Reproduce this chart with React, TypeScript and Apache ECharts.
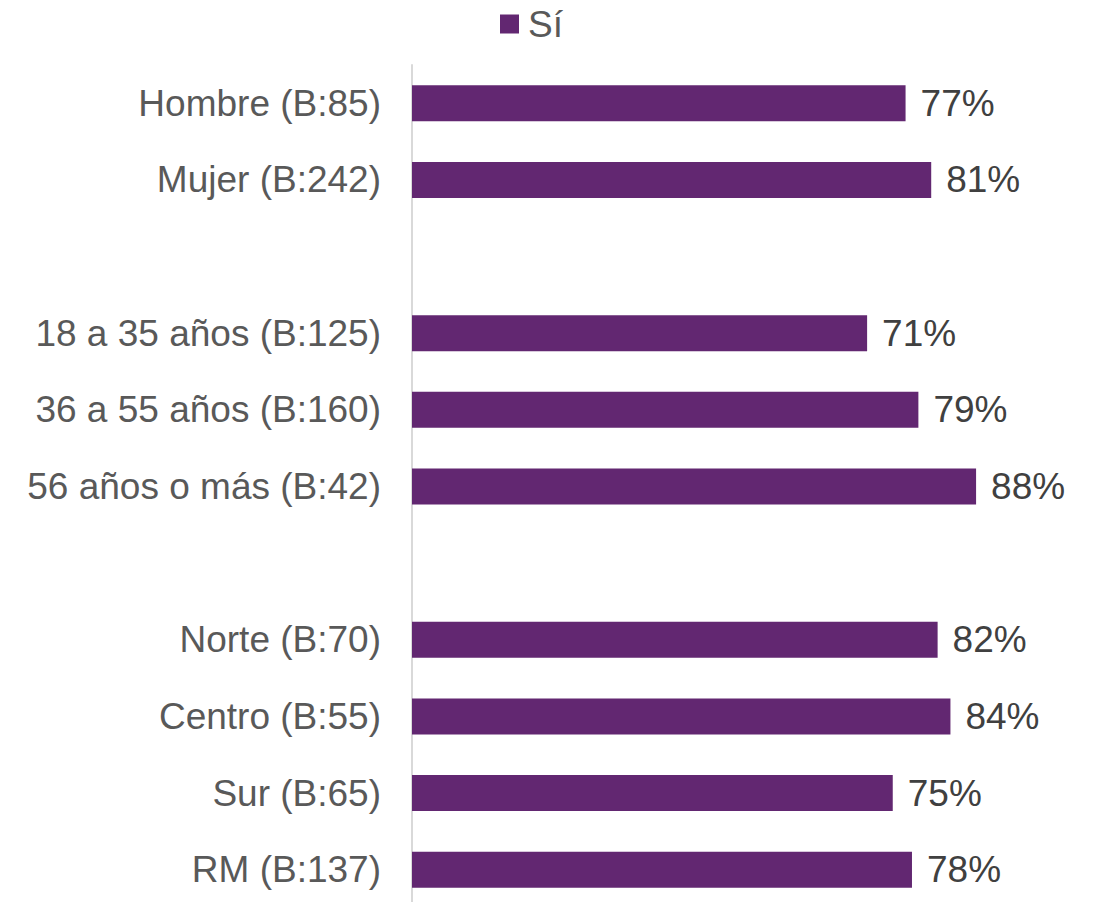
import React, { useEffect, useRef } from "react";
import * as echarts from "echarts";

const categories = [
  "Hombre (B:85)",
  "Mujer (B:242)",
  "",
  "18 a 35 años (B:125)",
  "36 a 55 años (B:160)",
  "56 años o más (B:42)",
  " ",
  "Norte (B:70)",
  "Centro (B:55)",
  "Sur (B:65)",
  "RM (B:137)",
];
const siValues: (number | null)[] = [77, 81, null, 71, 79, 88, null, 82, 84, 75, 78];
const seriesName = "Sí";

export default function App() {
  const ref = useRef<HTMLDivElement>(null);
  useEffect(() => {
    if (!ref.current) return;
    const chart = echarts.init(ref.current, null, { renderer: "svg" });
    chart.setOption({
      animation: false,
      textStyle: { fontFamily: "Liberation Sans, Arial, sans-serif" },
      legend: {
        data: [seriesName],
        left: 500,
        top: 5,
        padding: 0,
        icon: "rect",
        itemWidth: 19,
        itemHeight: 19,
        textStyle: {
          fontSize: 37,
          color: "#595959",
          lineHeight: 38,
          padding: [0, 0, 0, 4],
        },
      },
      grid: { left: 412, top: 65, width: 641, height: 843 },
      xAxis: {
        type: "value",
        min: 0,
        max: 100,
        show: false,
      },
      yAxis: {
        type: "category",
        inverse: true,
        data: categories,
        axisTick: { show: false },
        axisLine: { show: true, lineStyle: { color: "#d9d9d9", width: 2 } },
        axisLabel: {
          fontSize: 37,
          color: "#595959",
          margin: 31,
        },
        splitLine: { show: false },
      },
      series: [
        {
          name: seriesName,
          type: "bar",
          data: siValues,
          barWidth: 36,
          itemStyle: { color: "#622771" },
          label: {
            show: true,
            position: "right",
            distance: 15,
            fontSize: 37,
            color: "#404040",
            formatter: (p: any) => (p.value == null ? "" : p.value + "%"),
          },
        },
      ],
    });
    return () => chart.dispose();
  }, []);
  return (
    <div
      style={{
        position: "absolute",
        left: 0,
        top: 0,
        width: 1094,
        height: 902,
        overflow: "hidden",
      }}
    >
      <div ref={ref} style={{ width: 1094, height: 910 }} />
    </div>
  );
}
